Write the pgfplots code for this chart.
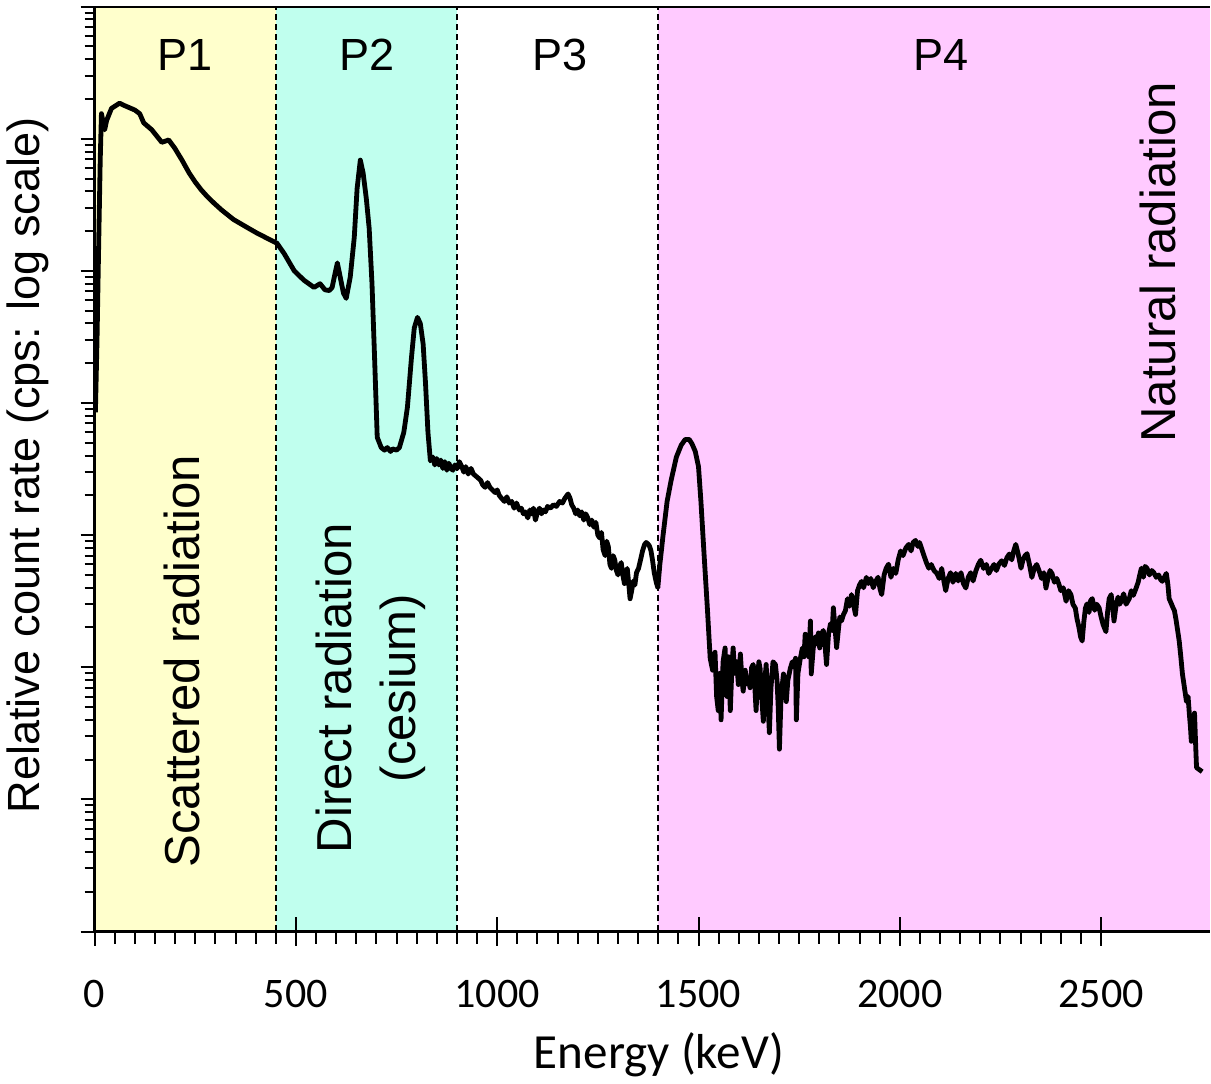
\documentclass[border=0pt]{standalone}
\usepackage{pgfplots}
\pgfplotsset{compat=1.18}
\usepackage{fontspec}
\setmainfont{Liberation Sans}
\newfontfamily\carlito{Carlito}
\definecolor{pone}{RGB}{255,255,204}
\definecolor{ptwo}{RGB}{192,255,238}
\definecolor{pfour}{RGB}{255,202,255}
\begin{document}
\begin{tikzpicture}
\begin{axis}[
  scale only axis, width=556.5pt, height=461.5pt,
  xmin=0, xmax=2770, ymode=log, ymin=1, ymax=1e7,
  axis x line*=bottom, axis y line*=left,
  axis line style={line width=1.2pt},
  axis on top,
  xtick=\empty,
  ytick={1,10,100,1000,10000,100000,1000000,10000000},
  yticklabels={},
  ytick align=outside,
  major tick length=7pt, minor tick length=5pt,
  tick style={line width=1.0pt, black},
  xlabel={Energy (keV)},
  xlabel style={font=\carlito\fontsize{24.5}{28}\selectfont, at={(axis description cs:0.506,-0.133)}, anchor=center},
  ylabel={Relative count rate (cps: log scale)},
  ylabel style={font=\fontsize{22.5}{27}\selectfont, at={(axis description cs:-0.060,0.504)}, anchor=center},
  clip=true,
]
\addplot[fill=pone, draw=none] coordinates {(0,1) (0,1e7) (450,1e7) (450,1)} -- cycle;
\addplot[fill=ptwo, draw=none] coordinates {(450,1) (450,1e7) (900,1e7) (900,1)} -- cycle;
\addplot[fill=pfour, draw=none] coordinates {(1400,1) (1400,1e7) (2770,1e7) (2770,1)} -- cycle;
\addplot[black, line width=0.9pt, dash pattern=on 3pt off 2pt] coordinates {(450,1) (450,1e7)};
\addplot[black, line width=0.9pt, dash pattern=on 3pt off 2pt] coordinates {(900,1) (900,1e7)};
\addplot[black, line width=0.9pt, dash pattern=on 3pt off 2pt] coordinates {(1400,1) (1400,1e7)};
\addplot[black, line width=2.4pt, line join=round] coordinates {
(2,8.5e3) (6,3e4) (10,1.5e5) (14,7e5) (17,1.55e6) (25,1.17e6) (30,1.38e6) (42,1.70e6)
(62,1.86e6) (75,1.78e6) (100,1.65e6) (112,1.55e6) (122,1.32e6) (142,1.17e6) (167,9.4e5)
(184,9.8e5) (199,8.5e5) (217,6.9e5) (235,5.5e5) (250,4.7e5) (265,4.1e5) (280,3.65e5) (297,3.25e5)
(315,2.9e5) (345,2.45e5) (378,2.14e5) (405,1.92e5)
(428,1.77e5) (453,1.62e5) (471,1.35e5) (496,1.0e5) (520,8.5e4) (545,7.5e4) (560,8.0e4)
(572,7.2e4) (583,7.1e4) (590,7.5e4) (597,9.5e4) (603,1.15e5) (610,9e4) (618,6.8e4)
(625,6.2e4) (635,9e4) (645,1.8e5) (652,4.2e5) (660,6.9e5) (667,5.5e5) (675,3.5e5)
(682,2.1e5) (689,8e4) (695,2.4e4) (702,5.5e3) (712,4.6e3) (720,4.4e3) (727,4.6e3) (735,4.3e3) (740,4.5e3)
(750,4.4e3) (757,4.6e3) (768,6e3) (777,9.3e3) (787,2.2e4) (794,3.7e4) (802,4.45e4) (809,4.0e4)
(816,2.8e4) (822,1.4e4) (828,6e3) (834,3.65e3) (840,3.9e3) (845,3.4e3) (850,3.8e3) (855,3.4e3) (860,3.7e3) (865,3.2e3)
(870,3.6e3) (875,3.1e3) (880,3.5e3) (885,3.2e3) (890,3.1e3) (895,3.4e3)
(901,3.2e3) (906,3.6e3) (912,3.3e3) (917,3.0e3) (922,3.3e3) (928,2.9e3) (935,3.2e3) (941,2.9e3)
(947,2.8e3) (953,2.7e3) (959,2.6e3) (964,2.4e3) (970,2.3e3) (976,2.5e3) (982,2.3e3) (988,2.2e3)
(995,2.1e3) (1000,2.2e3) (1005,2.0e3) (1011,1.9e3) (1018,1.8e3) (1024,1.95e3) (1030,1.75e3)
(1036,1.8e3) (1042,1.6e3) (1048,1.75e3) (1055,1.55e3) (1060,1.6e3) (1065,1.45e3) (1070,1.5e3)
(1076,1.35e3) (1081,1.55e3) (1085,1.45e3) (1090,1.6e3) (1095,1.3e3) (1100,1.5e3) (1105,1.6e3)
(1110,1.45e3) (1115,1.55e3) (1120,1.5e3) (1125,1.65e3) (1132,1.6e3) (1140,1.7e3) (1147,1.65e3)
(1155,1.8e3) (1162,1.75e3) (1168,1.9e3) (1176,2.05e3) (1181,1.9e3) (1185,1.7e3) (1190,1.6e3)
(1195,1.45e3) (1200,1.55e3) (1205,1.4e3) (1210,1.5e3) (1215,1.3e3) (1220,1.45e3) (1225,1.35e3)
(1230,1.2e3) (1235,1.3e3) (1240,1.15e3) (1245,1.25e3) (1250,1.0e3) (1255,950) (1259,1.05e3)
(1263,780) (1268,700) (1272,900) (1276,820) (1280,600) (1284,560) (1288,700) (1292,650)
(1296,540) (1300,500) (1304,580) (1308,620) (1312,500) (1316,430) (1320,520) (1323,560)
(1327,420) (1330,330) (1334,380) (1338,450) (1342,420) (1346,520) (1351,560) (1356,650)
(1361,760) (1366,850) (1370,880) (1374,860) (1378,830) (1382,760) (1386,640) (1390,520)
(1395,440) (1399,400) (1404,600) (1412,1.0e3)
(1422,1.8e3) (1432,2.6e3) (1445,3.9e3) (1457,4.8e3) (1467,5.3e3) (1477,5.3e3)
(1484,4.9e3) (1492,4.3e3) (1500,3.3e3) (1506,1.8e3) (1514,700) (1522,280)
(1529,117) (1535,95) (1541,130) (1545,60) (1549,47) (1553,90) (1556,40) (1561,110) (1566,140)
(1571,60) (1575,120) (1579,47) (1583,100) (1586,140) (1590,90) (1595,110) (1599,74) (1604,126)
(1608,80) (1611,66) (1616,95) (1620,75) (1623,83) (1628,70) (1632,100) (1636,105) (1640,70)
(1643,47) (1647,85) (1650,110) (1653,98) (1657,60) (1661,39) (1665,80) (1668,105) (1672,60)
(1676,32) (1680,70) (1685,110) (1691,105) (1695,80) (1698,50) (1701,24) (1705,60) (1711,89)
(1715,75) (1718,55) (1722,80) (1728,98) (1733,110) (1737,100) (1741,117) (1743,40) (1747,90)
(1753,117) (1758,140) (1762,120) (1765,178) (1770,150) (1774,120) (1778,224) (1780,89)
(1785,140) (1790,170) (1794,150) (1798,182) (1801,140) (1805,178) (1810,190) (1814,150)
(1818,105) (1823,180) (1828,214) (1832,190) (1835,282) (1839,200) (1843,141) (1848,200)
(1851,240) (1855,224) (1860,250) (1865,269) (1870,330) (1875,290) (1880,355) (1885,300)
(1890,251) (1895,380) (1900,420) (1905,447) (1910,400) (1917,479) (1922,430) (1928,470)
(1934,400) (1940,447) (1946,480) (1951,390) (1955,355) (1961,500) (1966,560) (1972,603)
(1978,480) (1984,560) (1990,513) (1996,650) (2002,759) (2008,700) (2015,800) (2022,851)
(2028,760) (2033,880) (2039,912) (2045,820) (2049,880) (2054,794) (2060,700) (2066,620)
(2072,562) (2078,600) (2085,540) (2092,513) (2098,470) (2104,560) (2110,440) (2114,380)
(2120,470) (2126,520) (2132,440) (2139,513) (2145,450) (2152,520) (2158,430) (2164,398)
(2170,480) (2176,520) (2182,450) (2189,537) (2195,600) (2201,646) (2208,560) (2215,600)
(2221,513) (2228,560) (2234,600) (2240,540) (2246,603) (2253,640) (2260,590) (2266,676)
(2272,720) (2278,650) (2283,760) (2288,851) (2294,720) (2301,562) (2306,650) (2311,700)
(2316,724) (2322,600) (2328,479) (2334,560) (2340,600) (2346,537) (2352,470) (2358,520)
(2363,398) (2368,470) (2373,540) (2378,513) (2384,440) (2390,470) (2395,427) (2400,380)
(2406,400) (2413,316) (2419,380) (2425,355) (2430,300) (2436,280) (2440,234) (2445,200)
(2449,170) (2453,158) (2457,220) (2461,280) (2465,302) (2470,260) (2474,320) (2478,331)
(2484,270) (2489,300) (2495,282) (2500,240) (2505,210) (2512,186) (2516,260) (2520,330)
(2525,355) (2529,280) (2532,224) (2537,290) (2542,340) (2546,300) (2550,316) (2556,360)
(2562,300) (2570,331) (2575,380) (2580,350) (2587,398) (2592,440) (2596,500) (2600,562)
(2605,480) (2609,580) (2614,562) (2620,500) (2626,540) (2631,520) (2637,479) (2643,500)
(2648,460) (2652,447) (2657,480) (2662,513) (2666,420) (2669,331) (2675,300) (2679,280)
(2682,269) (2686,230) (2689,200) (2694,158) (2698,120) (2702,89) (2707,70) (2712,55)
(2716,60) (2719,45) (2722,35) (2724,27.5) (2728,40) (2732,45) (2735,25) (2737,17.4) (2751,16.2)
};
\draw[line width=1.2pt] (rel axis cs:0,1) -- (rel axis cs:1,1);
\node[font=\fontsize{22.5}{27}\selectfont] at (axis cs:224,4.3e6) {P1};
\node[font=\fontsize{22.5}{27}\selectfont] at (axis cs:677,4.3e6) {P2};
\node[font=\fontsize{22.5}{27}\selectfont] at (axis cs:1155,4.3e6) {P3};
\node[font=\fontsize{22.5}{27}\selectfont] at (axis cs:2102,4.3e6) {P4};
\node[rotate=90, font=\fontsize{24.5}{29}\selectfont] at (axis cs:216,111) {Scattered radiation};
\node[rotate=90, font=\fontsize{24.5}{29}\selectfont] at (axis cs:595,69.5) {Direct radiation};
\node[rotate=90, font=\fontsize{24.5}{29}\selectfont] at (axis cs:766,69.5) {(cesium)};
\node[rotate=90, font=\fontsize{24.5}{29}\selectfont] at (axis cs:2642,1.16e5) {Natural radiation};
\path (axis description cs:-0.08805,1.0076) rectangle (axis description cs:1,-0.1571);
\end{axis}
\begin{axis}[
  scale only axis, width=556.5pt, height=461.5pt,
  xmin=0, xmax=2770, ymin=0, ymax=1,
  axis x line*=bottom, axis y line=none,
  axis line style={line width=1.2pt},
  xtick={0,500,1000,1500,2000,2500},
  xticklabels={0,500,1000,1500,2000,2500},
  minor x tick num=9,
  xtick align=center,
  major tick length=14pt, minor tick length=6pt,
  tick style={line width=1.0pt, black},
  minor x tick style={yshift=-3pt},
  xticklabel style={font=\carlito\fontsize{21}{21}\selectfont, anchor=north, yshift=-14pt},
]
\end{axis}
\end{tikzpicture}
\end{document}
